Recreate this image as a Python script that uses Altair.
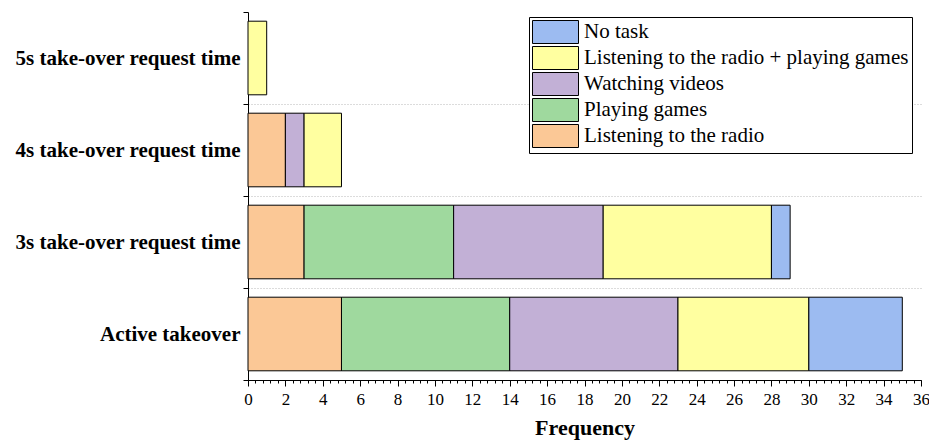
import altair as alt
import pandas as pd

categories = ["5s take-over request time", "4s take-over request time",
              "3s take-over request time", "Active takeover"]
tasks = ["Listening to the radio", "Playing games", "Watching videos",
         "Listening to the radio + playing games", "No task"]
radio = [0, 2, 3, 5]
games = [0, 0, 8, 9]
videos = [0, 1, 8, 9]
radio_games = [1, 2, 9, 7]
no_task = [0, 0, 1, 5]
colors = ["#FBC896", "#9FD99E", "#C2B0D6", "#FFFFA0", "#9CBBF1"]
legend_order = ["No task", "Listening to the radio + playing games",
                "Watching videos", "Playing games", "Listening to the radio"]
x_ticks = list(range(0, 37, 2))
minor_ticks = [round(i * 0.4, 1) for i in range(91)]

series = [radio, games, videos, radio_games, no_task]
rows = []
for ti, (task, vals) in enumerate(zip(tasks, series)):
    for cat, v in zip(categories, vals):
        if v > 0:
            rows.append({"category": cat, "task": task, "value": v, "order": ti})
df = pd.DataFrame(rows)

color_map = dict(zip(tasks, colors))
legend_colors = [color_map[t] for t in legend_order]

FONT = "Liberation Serif"
hide_test = "datum.index < 0 || datum.value == null"

y_enc = alt.Y(
    "category:N", sort=categories,
    scale=alt.Scale(paddingInner=0, paddingOuter=0),
    axis=alt.Axis(title=None, labelFont=FONT, labelFontWeight="bold",
                  labelFontSize=21, labelColor="black", labelLimit=400,
                  tickBand="extent", grid=True, gridDash=[1, 2],
                  gridColor="#b8b8b8",
                  gridOpacity={"condition": {"test": hide_test, "value": 0},
                               "value": 1},
                  tickSize=5, tickColor="black",
                  domainColor="black", labelPadding=3),
)

bars = alt.Chart(df).mark_bar(
    stroke="black", strokeWidth=1, opacity=1,
    height=alt.RelativeBandSize(band=0.8),
).encode(
    x=alt.X("value:Q", stack="zero",
            scale=alt.Scale(domain=[0, 36], nice=False, zero=True),
            axis=alt.Axis(values=x_ticks, title="Frequency", titleFont=FONT,
                          titleFontSize=22, titleFontWeight="bold",
                          titleColor="black", titlePadding=10,
                          labelFont=FONT, labelFontSize=17, labelColor="black",
                          labelFlush=False,
                          tickSize=6, tickColor="black", domainColor="black",
                          labelPadding=5, grid=False, orient="bottom")),
    y=y_enc,
    color=alt.Color("task:N",
                    scale=alt.Scale(domain=legend_order, range=legend_colors),
                    legend=alt.Legend(title=None, orient="none", legendX=281,
                                      legendY=5,
                                      symbolType="M-1,-1H3V1H-1Z",
                                      symbolSize=529, symbolStrokeColor="black",
                                      symbolStrokeWidth=1, symbolOpacity=1,
                                      labelFont=FONT, labelFontSize=21,
                                      labelColor="black", labelLimit=500,
                                      rowPadding=-2.6, padding=3, labelOffset=28,
                                      strokeColor="black", fillColor="white")),
    order=alt.Order("order:Q"),
)

minor = alt.Chart(df).mark_bar(opacity=0).encode(
    x=alt.X("value:Q", stack="zero",
            axis=alt.Axis(values=minor_ticks, labels=False, title=None,
                          tickSize=3, tickColor="black", domain=False,
                          grid=False, orient="bottom")),
    y=alt.Y("category:N", sort=categories),
)

chart = alt.layer(bars, minor).resolve_axis(x="independent").properties(
    width=673, height=368,
    autosize=alt.AutoSizeParams(type="none"),
    padding={"left": 240, "top": 4, "right": 8, "bottom": 65},
).configure_view(strokeWidth=0)

chart.save("out.html", embed_options={"renderer": "svg", "actions": False})
